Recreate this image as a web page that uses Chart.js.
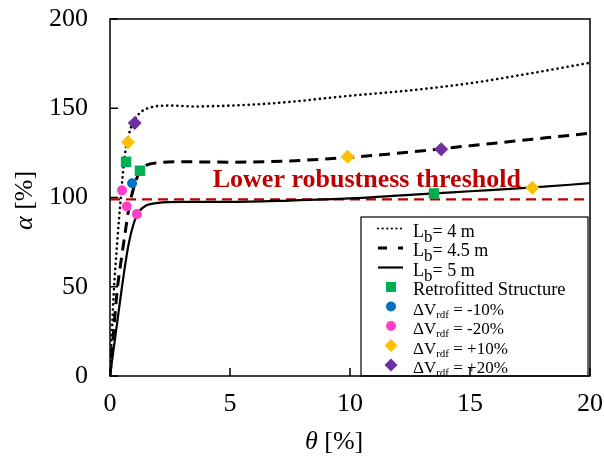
<!DOCTYPE html>
<html><head><meta charset="utf-8">
<script src="https://cdn.jsdelivr.net/npm/chart.js@4.4.0/dist/chart.umd.min.js"></script>
<style>html,body{margin:0;padding:0;background:#fff;}#wrap{position:relative;width:604px;height:457px;}</style>
</head><body><div id="wrap"><canvas id="c" width="604" height="457"></canvas></div>
<script>
// ---- data (theta [%], alpha [%]) ----
const lb4Theta  = [0, 0.15, 0.3, 0.45, 0.6, 0.8, 1.0, 1.3, 1.7, 2.5, 3.5, 5, 7, 10, 12.5, 15, 17.5, 20];
const lb4Alpha  = [0, 45, 75, 100, 122, 136, 143, 148, 150.5, 151.5, 151, 151.5, 153, 157, 160, 164, 169.5, 175.5];
const lb45Theta = [0, 0.15, 0.3, 0.5, 0.65, 0.8, 1.0, 1.25, 1.5, 2, 3, 5, 7.5, 10, 12.5, 15, 17.5, 20];
const lb45Alpha = [0, 25, 48, 68, 82, 95, 106, 115, 118, 119.5, 120, 119.8, 120.5, 122.5, 125.5, 129, 132.5, 136];
const lb5Theta  = [0, 0.25, 0.5, 0.75, 1.0, 1.2, 1.5, 2, 3, 5, 7.5, 10, 12.5, 13.5, 15, 17.5, 20];
const lb5Alpha  = [0, 25, 50, 72, 86, 92, 95.5, 97, 97.5, 97.5, 98.3, 99.5, 101.5, 102.3, 103.5, 105.5, 108];
const retroTheta = [0.67, 1.25, 13.5];
const retroAlpha = [120, 115, 102.3];
const m10Theta = [0.92];
const m10Alpha = [108];
const m20Theta = [0.5, 0.7, 1.12];
const m20Alpha = [104, 95, 90.7];
const p10Theta = [0.75, 9.9, 17.6];
const p10Alpha = [131, 122.8, 105.5];
const p20Theta = [1.03, 13.8];
const p20Alpha = [141.7, 127];
const thresholdAlpha = 99;
const thetaRange = [0, 20];
const alphaRange = [0, 200];
const thetaTicks = [0, 5, 10, 15, 20];
const alphaTicks = [0, 50, 100, 150, 200];

const pts = (xs, ys) => xs.map((x, i) => ({x, y: ys[i]}));
const SERIF = "'Liberation Serif', 'Times New Roman', serif";

const markerDs = (label, xs, ys, color, style, r) => ({
  label, data: pts(xs, ys), showLine: false, pointStyle: style,
  pointRadius: r, pointHoverRadius: r, backgroundColor: color, borderColor: color, borderWidth: 0
});
const lineDs = (label, xs, ys, dash, width, cap) => ({
  label, data: pts(xs, ys), showLine: true, pointRadius: 0, borderColor: '#000',
  borderWidth: width, borderDash: dash, borderCapStyle: cap || 'butt',
  cubicInterpolationMode: 'monotone', fill: false
});

const decor = {
  id: 'decor',
  afterDatasetsDraw(chart) {
    const ctx = chart.ctx, xs = chart.scales.x, ys = chart.scales.y, ca = chart.chartArea;
    ctx.save();
    ctx.fillStyle = '#c00000';
    ctx.font = "bold 26px " + SERIF;
    ctx.textAlign = 'left'; ctx.textBaseline = 'alphabetic';
    ctx.fillText('Lower robustness threshold', xs.getPixelForValue(4.28), ys.getPixelForValue(106));

    // legend
    const L = 361, T = 217, W = 227, H = 159;
    ctx.fillStyle = '#fff'; ctx.fillRect(L, T, W, H);
    ctx.strokeStyle = '#000'; ctx.lineWidth = 1.2; ctx.strokeRect(L, T, W, H);
    const rowY = i => 228.5 + i * 19.5;
    const base = i => 236.5 + i * 19.5;
    const sx0 = 378, sx1 = 403, mx = 391, tx = 413;
    ctx.lineCap = 'round';
    ctx.beginPath(); ctx.setLineDash([0.1, 4.5]); ctx.lineWidth = 2.2;
    ctx.moveTo(sx0, rowY(0)); ctx.lineTo(sx1, rowY(0)); ctx.stroke();
    ctx.lineCap = 'butt';
    ctx.beginPath(); ctx.setLineDash([9, 11]); ctx.lineWidth = 3;
    ctx.moveTo(sx0, rowY(1)); ctx.lineTo(sx1, rowY(1)); ctx.stroke();
    ctx.beginPath(); ctx.setLineDash([]); ctx.lineWidth = 2.2;
    ctx.moveTo(sx0, rowY(2)); ctx.lineTo(sx1, rowY(2)); ctx.stroke();
    ctx.fillStyle = '#00b050'; ctx.fillRect(mx - 5, rowY(3) - 5, 10, 10);
    ctx.fillStyle = '#0070c0'; ctx.beginPath(); ctx.arc(mx, rowY(4), 5, 0, Math.PI * 2); ctx.fill();
    ctx.fillStyle = '#ff3dc8'; ctx.beginPath(); ctx.arc(mx, rowY(5), 5, 0, Math.PI * 2); ctx.fill();
    const diamond = (y, c) => { ctx.fillStyle = c; ctx.beginPath(); ctx.moveTo(mx, y - 6.5); ctx.lineTo(mx + 6.5, y); ctx.lineTo(mx, y + 6.5); ctx.lineTo(mx - 6.5, y); ctx.closePath(); ctx.fill(); };
    diamond(rowY(6), '#ffc000'); diamond(rowY(7), '#7030a0');
    ctx.fillStyle = '#000'; ctx.textAlign = 'left'; ctx.textBaseline = 'alphabetic';
    const lbF = "18px " + SERIF, subB = "17px " + SERIF, dvF = "17px " + SERIF, tiny = "11px " + SERIF;
    const seg = (parts, y) => { let x = tx; for (const [t, f, dy] of parts) { ctx.font = f; ctx.fillText(t, x, y + dy); x += ctx.measureText(t).width; } };
    const lbRow = (v, i) => seg([['L', lbF, 0], ['b', subB, 5], ['= ' + v + ' m', lbF, 0]], base(i));
    lbRow('4', 0); lbRow('4.5', 1); lbRow('5', 2);
    seg([['Retrofitted Structure', "18.5px " + SERIF, 0]], base(3));
    const dvRow = (v, i) => seg([['\u0394V', dvF, 0], ['rdf', tiny, 3], [' = ' + v, dvF, 0]], base(i));
    dvRow('-10%', 4); dvRow('-20%', 5); dvRow('+10%', 6); dvRow('+20%', 7);

    // frame and inward ticks
    ctx.strokeStyle = '#000'; ctx.lineWidth = 1.5; ctx.setLineDash([]); ctx.lineCap = 'butt';
    ctx.strokeRect(ca.left, ca.top, ca.right - ca.left, ca.bottom - ca.top);
    ctx.beginPath();
    for (const v of thetaTicks) { const p = xs.getPixelForValue(v); ctx.moveTo(p, ca.bottom); ctx.lineTo(p, ca.bottom - 8); }
    for (const v of alphaTicks) { const p = ys.getPixelForValue(v); ctx.moveTo(ca.left, p); ctx.lineTo(ca.left + 8, p); }
    ctx.stroke();

    // axis titles
    ctx.fillStyle = '#000';
    const title = (parts, x, y) => { let xx = x; for (const [t, f] of parts) { ctx.font = f; ctx.fillText(t, xx, y); xx += ctx.measureText(t).width; } };
    title([['\u03b8', "italic 26px " + SERIF], [' [%]', "26px " + SERIF]], 305, 449);
    ctx.translate(32, 230); ctx.rotate(-Math.PI / 2);
    title([['\u03b1', "italic 26px " + SERIF], [' [%]', "26px " + SERIF]], 0, 0);
    ctx.restore();
  }
};

new Chart(document.getElementById('c'), {
  type: 'scatter',
  data: { datasets: [
    markerDs('ΔVrdf = +20%', p20Theta, p20Alpha, '#7030a0', 'rectRot', 7),
    markerDs('ΔVrdf = +10%', p10Theta, p10Alpha, '#ffc000', 'rectRot', 7),
    markerDs('ΔVrdf = -20%', m20Theta, m20Alpha, '#ff3dc8', 'circle', 5),
    markerDs('ΔVrdf = -10%', m10Theta, m10Alpha, '#0070c0', 'circle', 5),
    markerDs('Retrofitted Structure', retroTheta, retroAlpha, '#00b050', 'rect', 7.4),
    lineDs('Lb= 4 m', lb4Theta, lb4Alpha, [0.1, 5], 2.6, 'round'),
    lineDs('Lb= 4.5 m', lb45Theta, lb45Alpha, [11, 7], 3),
    lineDs('Lb= 5 m', lb5Theta, lb5Alpha, [], 2.2),
    { label: 'threshold', data: [{x: thetaRange[0], y: thresholdAlpha}, {x: thetaRange[1], y: thresholdAlpha}],
      showLine: true, pointRadius: 0, borderColor: '#c00000', borderWidth: 2.2, borderDash: [10, 6] }
  ]},
  options: {
    responsive: false, devicePixelRatio: 1, animation: false,
    layout: { padding: { top: 19, right: 14, left: 0, bottom: 0 } },
    plugins: { legend: { display: false }, tooltip: { enabled: false } },
    scales: {
      x: { type: 'linear', min: thetaRange[0], max: thetaRange[1],
        afterFit: s => { s.height = 81; s.paddingLeft = 0; s.paddingRight = 0; },
        afterBuildTicks: s => { s.ticks = thetaTicks.map(v => ({value: v})); },
        grid: { display: false, drawTicks: false }, border: { display: false },
        ticks: { padding: 13, color: '#000', font: { family: SERIF, size: 26 }, maxRotation: 0 } },
      y: { type: 'linear', min: alphaRange[0], max: alphaRange[1],
        afterFit: s => { s.width = 110; s.paddingTop = 0; s.paddingBottom = 0; },
        afterBuildTicks: s => { s.ticks = alphaTicks.map(v => ({value: v})); },
        grid: { display: false, drawTicks: false }, border: { display: false },
        ticks: { padding: 22, color: '#000', font: { family: SERIF, size: 26 } } }
    }
  },
  plugins: [decor]
});
</script></body></html>
